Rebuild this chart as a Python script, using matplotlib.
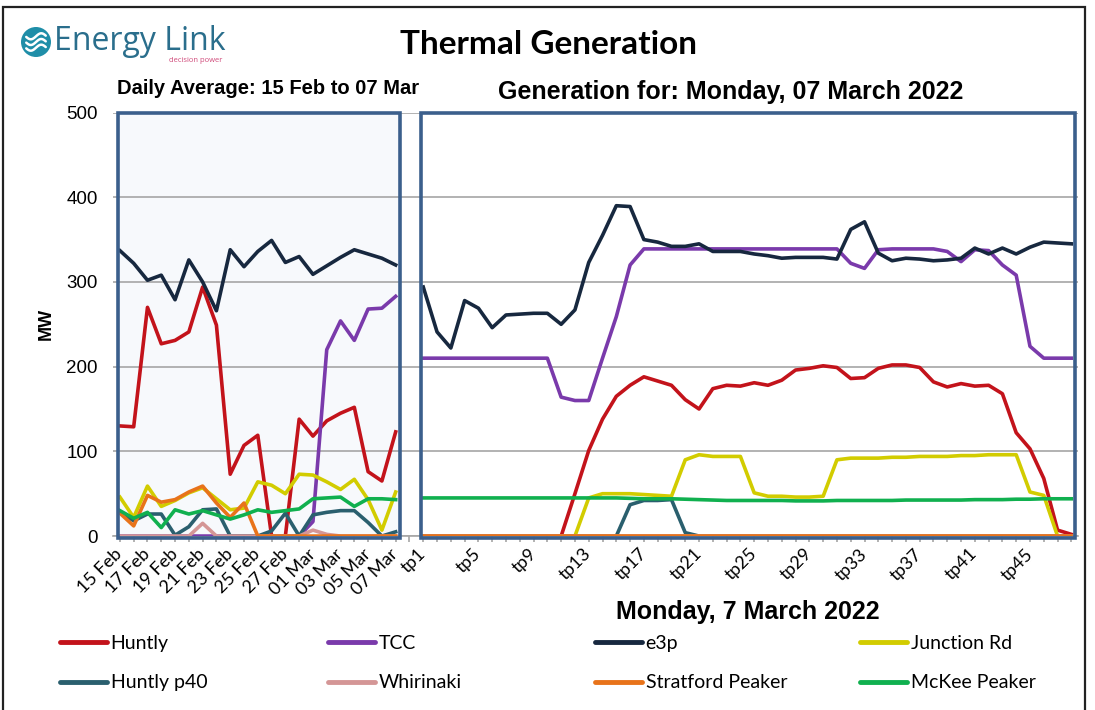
import matplotlib
matplotlib.use("Agg")
import matplotlib.pyplot as plt
import numpy as np
from matplotlib import font_manager
from matplotlib.patches import Rectangle, Circle
from matplotlib.ticker import FixedLocator, NullFormatter

# categories: 21 daily averages, one blank slot, 48 trading periods
days = ['15 Feb', '16 Feb', '17 Feb', '18 Feb', '19 Feb', '20 Feb', '21 Feb', '22 Feb',
        '23 Feb', '24 Feb', '25 Feb', '26 Feb', '27 Feb', '28 Feb', '01 Mar', '02 Mar',
        '03 Mar', '04 Mar', '05 Mar', '06 Mar', '07 Mar']
tps = ['tp%d' % k for k in range(1, 49)]

names = ['Huntly', 'TCC', 'e3p', 'Junction Rd', 'Huntly p40', 'Whirinaki',
         'Stratford Peaker', 'McKee Peaker']
colors = ['#c3131b', '#7a3aab', '#17283f', '#d2cc00', '#2a5f6e', '#d49696',
          '#e8731a', '#10b04f']

# daily averages (MW)
huntly_d = [130, 129, 270, 227, 231, 241, 294, 249, 73, 107, 119, 0, 0, 138, 118, 136, 145, 152, 76, 65, 123]
tcc_d = [0, 0, 0, 0, 0, 0, 0, 0, 0, 0, 0, 0, 0, 0, 17, 220, 254, 231, 268, 269, 283]
e3p_d = [337, 322, 302, 308, 279, 326, 300, 266, 338, 318, 336, 349, 323, 330, 309, 319, 329, 338, 333, 328, 320]
junction_d = [46, 22, 59, 35, 42, 51, 57, 44, 31, 33, 64, 60, 50, 73, 72, 64, 55, 67, 43, 7, 52]
p40_d = [28, 18, 26, 26, 1, 11, 31, 32, 0, 0, 0, 6, 27, 0, 25, 28, 30, 30, 16, 0, 5]
whirinaki_d = [0, 0, 0, 0, 0, 0, 15, 0, 0, 0, 0, 0, 0, 0, 7, 2, 0, 0, 0, 0, 0]
stratford_d = [27, 12, 48, 40, 43, 52, 59, 39, 22, 39, 0, 0, 0, 0, 0, 0, 0, 0, 0, 0, 0]
mckee_d = [30, 21, 28, 10, 31, 26, 30, 25, 20, 25, 31, 28, 30, 32, 44, 45, 46, 35, 44, 44, 43]

# Monday 7 March 2022, per trading period (MW)
huntly_t = [0, 0, 0, 0, 0, 0, 0, 0, 0, 0, 0, 50, 101, 138, 165, 178, 188, 183, 178, 161,
            150, 174, 178, 177, 181, 178, 184, 196, 198, 201, 199, 186, 187, 198, 202, 202,
            199, 182, 176, 180, 177, 178, 168, 122, 103, 68, 7, 2]
tcc_t = [210, 210, 210, 210, 210, 210, 210, 210, 210, 210, 164, 160, 160, 210, 259, 320,
         339, 339, 339, 339, 339, 339, 339, 339, 339, 339, 339, 339, 339, 339, 339, 322,
         316, 338, 339, 339, 339, 339, 336, 324, 338, 337, 320, 308, 224, 210, 210, 210]
e3p_t = [294, 241, 222, 278, 269, 246, 261, 262, 263, 263, 250, 267, 323, 355, 390, 389,
         350, 347, 342, 342, 345, 336, 336, 336, 333, 331, 328, 329, 329, 329, 327, 362,
         371, 334, 325, 328, 327, 325, 326, 328, 340, 333, 340, 333, 341, 347, 346, 345]
junction_t = [0, 0, 0, 0, 0, 0, 0, 0, 0, 0, 0, 0, 45, 50, 50, 50, 49, 48, 47, 90, 96, 94,
              94, 94, 51, 47, 47, 46, 46, 47, 90, 92, 92, 92, 93, 93, 94, 94, 94, 95, 95,
              96, 96, 96, 52, 48, 0, 0]
p40_t = [0] * 15 + [37, 42, 42, 43, 4] + [0] * 28
whirinaki_t = [0] * 48
stratford_t = [0] * 48
mckee_t = [45, 45, 45, 45, 45, 45, 45, 45, 45, 45, 45, 45, 45, 45, 45, 44.5, 44, 44, 44,
           43.5, 43, 42.5, 42, 42, 42, 42, 42, 41.5, 41.5, 41.5, 42, 42, 42, 42, 42, 42.5,
           42.5, 42.5, 42.5, 42.5, 43, 43, 43, 43.5, 43.5, 44, 44, 44]

daily = [huntly_d, tcc_d, e3p_d, junction_d, p40_d, whirinaki_d, stratford_d, mckee_d]
today = [huntly_t, tcc_t, e3p_t, junction_t, p40_t, whirinaki_t, stratford_t, mckee_t]

installed = set(f.name for f in font_manager.fontManager.ttflist)
leg_font = 'Liberation Sans Narrow' if 'Liberation Sans Narrow' in installed else 'Lato'

n_days = len(days)
x_days = np.arange(n_days)
x_tps = np.arange(len(tps)) + n_days + 1

fig = plt.figure(figsize=(10.95, 7.10), dpi=100)
ax = fig.add_axes([0.1032, 0.245, 0.8815, 0.5965])

lines = []
for i in range(len(names)):
    ax.plot(x_days, daily[i], color=colors[i], lw=2.6, solid_joinstyle='round', zorder=3 + i * 0.1)
    l, = ax.plot(x_tps, today[i], color=colors[i], lw=2.6, solid_joinstyle='round', zorder=3 + i * 0.1)
    lines.append(l)

ax.set_xlim(-0.5, 69.5)
ax.set_ylim(0, 500)
ax.set_yticks([0, 100, 200, 300, 400, 500])
ax.set_axisbelow(True)
ax.grid(axis='y', color='#a6a6a6', lw=1.2)
for s in ['top', 'right', 'left']:
    ax.spines[s].set_visible(False)
ax.spines['bottom'].set_color('#a6a6a6')
ax.spines['bottom'].set_linewidth(1.2)
ax.tick_params(axis='y', length=0, pad=11, labelsize=13.5)
for t in ax.get_yticklabels():
    t.set_fontfamily('Liberation Sans')

# x ticks: every category gets a tick mark, only some get labels
labels = days + [''] + tps
major = [i for i in range(n_days) if i % 2 == 0] + [n_days + 1 + k for k in range(48) if k % 4 == 0]
ax.xaxis.set_major_locator(FixedLocator(major))
ax.set_xticklabels([labels[i] for i in major])
ax.xaxis.set_minor_locator(FixedLocator(range(len(labels))))
ax.xaxis.set_minor_formatter(NullFormatter())
ax.tick_params(axis='x', which='both', length=4, color='#a6a6a6', width=1.2)
ax.tick_params(axis='x', which='major', pad=7, labelsize=13)
for t in ax.get_xticklabels():
    t.set_rotation(45)
    t.set_ha('right')
    t.set_va('center')
    t.set_rotation_mode('anchor')
    t.set_fontfamily('Lato')

ax.set_ylabel('MW', fontsize=13, fontweight='bold', fontfamily='Liberation Sans')
ax.yaxis.set_label_coords(-0.06, 0.5)

# panel boxes
box_c = '#3b5f8c'
ax.add_patch(Rectangle((-0.15, -2.5), 20.45, 502.5, facecolor='#f7f9fc', edgecolor='none', zorder=0.2,
                       clip_on=False))
ax.add_patch(Rectangle((-0.15, -2.5), 20.45, 502.5, facecolor='none', edgecolor=box_c, lw=2.6, zorder=6,
                       clip_on=False))
ax.add_patch(Rectangle((21.85, -2.5), 47.45, 502.5, facecolor='none', edgecolor=box_c, lw=2.6, zorder=6,
                       clip_on=False))

# titles
fig.text(0.5005, 0.938, 'Thermal Generation', ha='center', va='center', fontsize=24,
         fontweight='bold', fontfamily='Lato')
fig.text(0.245, 0.876, 'Daily Average: 15 Feb to 07 Mar', ha='center', va='center', fontsize=14.5,
         fontweight='bold', fontfamily='Liberation Sans')
fig.text(0.667, 0.870, 'Generation for: Monday, 07 March 2022', ha='center', va='center', fontsize=18,
         fontweight='bold', fontfamily='Liberation Sans')
fig.text(0.683, 0.138, 'Monday, 7 March 2022', ha='center', va='center', fontsize=18,
         fontweight='bold', fontfamily='Liberation Sans')

# legend: four one-column blocks so rows read left to right
col_x = [60, 328, 595, 860]
for c in range(4):
    leg = fig.legend([lines[c], lines[c + 4]], [names[c], names[c + 4]], loc='upper left',
                     bbox_to_anchor=(col_x[c] / 1095, 1 - 635 / 710), frameon=False, borderpad=0,
                     borderaxespad=0, handlelength=2.4, handletextpad=0.2, labelspacing=1.15,
                     prop={'family': leg_font, 'size': 14})
    for h in leg.get_lines():
        h.set_linewidth(3.5)
        h.set_solid_capstyle('round')

# logo
lax = fig.add_axes([21 / 1095, 1 - 57 / 710, 30 / 1095, 30 / 710])
lax.set_xlim(-1, 1)
lax.set_ylim(-1, 1)
lax.set_aspect('equal')
lax.axis('off')
lax.add_patch(Circle((0, 0), 1, facecolor='#1f8ea8', edgecolor='none'))
s = np.linspace(-0.65, 0.65, 30)
for off in [-0.38, 0.0, 0.38]:
    lax.plot(s, off + 0.2 * np.sin(s * 4.5), color='white', lw=1.8, solid_capstyle='round')
fig.text(54 / 1095, 1 - 41 / 710, 'Energy Link', ha='left', va='center', fontsize=23,
         fontfamily='Open Sans', color='#2a6e8c')
fig.text(222 / 1095, 1 - 61 / 710, 'decision power', ha='right', va='center', fontsize=5.5,
         fontfamily='Open Sans', color='#d04a7a')

# outer frame
fig.patches.append(Rectangle((3 / 1095, -0.02), 1082 / 1095, 1.02 - 7 / 710, transform=fig.transFigure,
                             facecolor='none', edgecolor='#222222', lw=1.6))

fig.savefig('out.png', dpi=100)
